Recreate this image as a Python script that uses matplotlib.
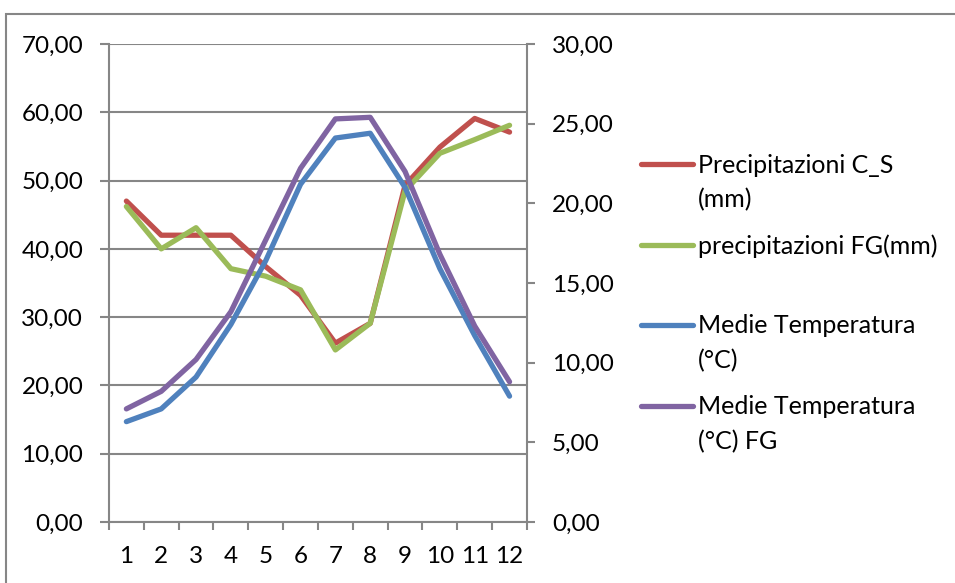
import matplotlib.pyplot as plt
from matplotlib.lines import Line2D
from matplotlib.patches import Rectangle
import numpy as np

plt.rcParams['font.family'] = ['Lato', 'DejaVu Sans']

months = [1, 2, 3, 4, 5, 6, 7, 8, 9, 10, 11, 12]
prec_cs = [47, 42, 42, 42, 37.4, 33.2, 26.2, 29.1, 49.3, 54.9, 59.1, 57.1]
prec_fg = [46.2, 40, 43.1, 37.1, 36, 34, 25.2, 29.1, 48.5, 54, 56, 58.1]
temp_cs = [6.3, 7.1, 9.1, 12.4, 16.4, 21.2, 24.1, 24.4, 21.0, 15.9, 11.7, 7.9]
temp_fg = [7.1, 8.2, 10.2, 13.2, 17.7, 22.2, 25.3, 25.4, 22.0, 16.8, 12.3, 8.8]
labels = ['Precipitazioni C_S\n(mm)', 'precipitazioni FG(mm)',
          'Medie Temperatura\n(°C)', 'Medie Temperatura\n(°C) FG']
colors = ['#C0504D', '#9BBB59', '#4F81BD', '#8064A2']

grey = '#868686'
fs = 17.5

fig = plt.figure(figsize=(9.55, 5.83), dpi=100)
ax = fig.add_axes([0.1141, 0.1046, 0.4377, 0.8199])
ax2 = ax.twinx()

ax.plot(months, prec_cs, color=colors[0], lw=3.8, solid_capstyle='round', zorder=3)
ax.plot(months, prec_fg, color=colors[1], lw=3.8, solid_capstyle='round', zorder=3)
ax2.plot(months, temp_cs, color=colors[2], lw=3.8, solid_capstyle='round')
ax2.plot(months, temp_fg, color=colors[3], lw=3.8, solid_capstyle='round')

ax.set_xlim(0.5, 12.5)
ax.set_ylim(0, 70)
ax2.set_ylim(0, 30)
ax.set_yticks(np.arange(0, 71, 10))
ax2.set_yticks(np.arange(0, 31, 5))
ax.set_yticklabels([f'{v:.2f}'.replace('.', ',') for v in np.arange(0, 71, 10)])
ax2.set_yticklabels([f'{v:.2f}'.replace('.', ',') for v in np.arange(0, 31, 5)])
ax.set_xticks(months)
ax.set_xticks(np.arange(0.5, 12.6, 1), minor=True)

ax.grid(axis='y', color=grey, lw=1.5)
ax.set_axisbelow(True)
for a in (ax, ax2):
    for s in a.spines.values():
        s.set_visible(False)
ax.spines['left'].set_visible(True)
ax.spines['bottom'].set_visible(True)
ax2.spines['right'].set_visible(True)
for s in (ax.spines['left'], ax.spines['bottom'], ax2.spines['right']):
    s.set_color(grey)
    s.set_linewidth(1.5)

ax.tick_params(axis='y', length=6.5, width=1.5, color=grey, pad=12, labelsize=fs)
ax2.tick_params(axis='y', length=6, width=1.5, color=grey, pad=12, labelsize=fs)
ax.tick_params(axis='x', which='major', length=0, pad=17, labelsize=fs)
ax.tick_params(axis='x', which='minor', length=6, width=1.5, color=grey)

# legend drawn by hand so the key sits on the first text line
leg_y = [0.718, 0.580, 0.442, 0.304]
for c, lab, y in zip(colors, labels, leg_y):
    fig.add_artist(Line2D([0.671, 0.726], [y, y], transform=fig.transFigure,
                          color=c, lw=3.8, solid_capstyle='round'))
    fig.text(0.731, y + 0.0186, lab, fontsize=18, va='top', ha='left',
             linespacing=1.6)

fig.add_artist(Rectangle((0.006, -0.1), 1.2, 1.076, transform=fig.transFigure,
                         fill=False, edgecolor=grey, lw=1.5))

fig.savefig('out.png', dpi=100)
